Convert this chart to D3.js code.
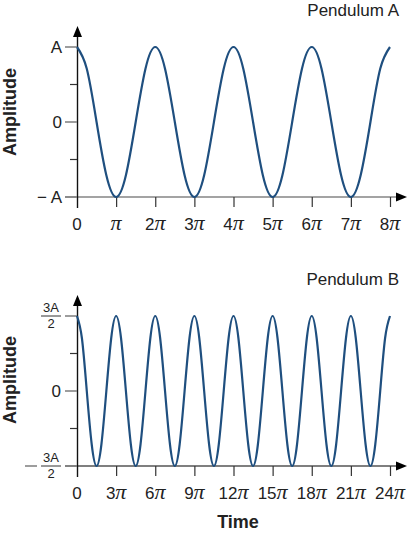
<!DOCTYPE html>
<html>
<head>
<meta charset="utf-8">
<script src="https://cdn.jsdelivr.net/npm/d3@7"></script>
<style>
  body { margin: 0; background: #fff; }
  svg { display: block; font-family: "Liberation Sans", Arial, sans-serif; }
</style>
</head>
<body>
<svg id="chart" width="411" height="534"></svg>
<script>
// time in units of pi, amplitude in units of A
const timeA = [0, 0.25, 0.5, 0.75, 1, 1.25, 1.5, 1.75, 2, 2.25, 2.5, 2.75, 3, 3.25, 3.5, 3.75,
  4, 4.25, 4.5, 4.75, 5, 5.25, 5.5, 5.75, 6, 6.25, 6.5, 6.75, 7, 7.25, 7.5, 7.75, 8];
const ampA = [1, 0.71, 0, -0.71, -1, -0.71, 0, 0.71, 1, 0.71, 0, -0.71, -1, -0.71, 0, 0.71,
  1, 0.71, 0, -0.71, -1, -0.71, 0, 0.71, 1, 0.71, 0, -0.71, -1, -0.71, 0, 0.71, 1];

const timeB = [0, 0.375, 0.75, 1.125, 1.5, 1.875, 2.25, 2.625, 3, 3.375, 3.75, 4.125, 4.5, 4.875, 5.25, 5.625,
  6, 6.375, 6.75, 7.125, 7.5, 7.875, 8.25, 8.625, 9, 9.375, 9.75, 10.125, 10.5, 10.875, 11.25, 11.625,
  12, 12.375, 12.75, 13.125, 13.5, 13.875, 14.25, 14.625, 15, 15.375, 15.75, 16.125, 16.5, 16.875, 17.25, 17.625,
  18, 18.375, 18.75, 19.125, 19.5, 19.875, 20.25, 20.625, 21, 21.375, 21.75, 22.125, 22.5, 22.875, 23.25, 23.625, 24];
const ampB = [1.5, 1.06, 0, -1.06, -1.5, -1.06, 0, 1.06, 1.5, 1.06, 0, -1.06, -1.5, -1.06, 0, 1.06,
  1.5, 1.06, 0, -1.06, -1.5, -1.06, 0, 1.06, 1.5, 1.06, 0, -1.06, -1.5, -1.06, 0, 1.06,
  1.5, 1.06, 0, -1.06, -1.5, -1.06, 0, 1.06, 1.5, 1.06, 0, -1.06, -1.5, -1.06, 0, 1.06,
  1.5, 1.06, 0, -1.06, -1.5, -1.06, 0, 1.06, 1.5, 1.06, 0, -1.06, -1.5, -1.06, 0, 1.06, 1.5];

const ticksA = [0, 1, 2, 3, 4, 5, 6, 7, 8];
const ticksB = [0, 3, 6, 9, 12, 15, 18, 21, 24];
const yMajorA = [1, 0, -1];
const yMinorA = [0.5, -0.5];
const yMajorB = [1.5, 0, -1.5];
const yMinorB = [0.75, -0.75];

const svg = d3.select('#chart');
const lineColor = '#1f4f7f';
const grey = '#858585';

function panel(opts) {
  const x = d3.scaleLinear().domain(opts.xDomain).range([77, 390]);
  const y = d3.scaleLinear().domain(opts.yDomain).range([opts.bottom, opts.bottom - 150]);
  const g = svg.append('g');

  // horizontal axis (grey line + arrow)
  g.append('line')
    .attr('x1', 65).attr('x2', 400)
    .attr('y1', y(opts.yDomain[0])).attr('y2', y(opts.yDomain[0]))
    .attr('stroke', opts.xAxisColor).attr('stroke-width', 1.6);
  g.append('path')
    .attr('d', `M407,${y(opts.yDomain[0])} l-11,-4.5 v9 z`)
    .attr('fill', '#000');

  // x ticks
  const xAxis = d3.axisBottom(x).tickValues(opts.xTicks.slice(1)).tickSize(10).tickFormat('');
  const ax = g.append('g')
    .attr('transform', `translate(0,${y(opts.yDomain[0])})`)
    .call(xAxis);
  ax.select('.domain').remove();
  ax.selectAll('.tick line').attr('stroke', '#333').attr('stroke-width', 1.2);

  // tick labels with italic pi
  const lab = g.selectAll('text.xl')
    .data(opts.xTicks)
    .enter().append('text')
    .attr('class', 'xl')
    .attr('x', d => x(d))
    .attr('y', opts.bottom + 33)
    .attr('text-anchor', 'middle')
    .attr('font-size', 17)
    .attr('fill', '#222');
  lab.append('tspan').text(d => d === 1 ? '' : d);
  lab.filter(d => d !== 0).append('tspan')
    .attr('font-family', '"Liberation Serif", "Times New Roman", serif')
    .attr('font-style', 'italic')
    .attr('font-size', 22)
    .text('\u03c0');

  // vertical axis with arrow
  g.append('line')
    .attr('x1', 77.5).attr('x2', 77.5)
    .attr('y1', opts.bottom + 11).attr('y2', opts.bottom - 160)
    .attr('stroke', '#111').attr('stroke-width', 1.4);
  g.append('path')
    .attr('d', `M77.5,${opts.bottom - 171} l-4.5,11 h9 z`)
    .attr('fill', '#000');

  // y ticks
  g.selectAll('line.ymaj').data(opts.yMajor).enter().append('line')
    .attr('x1', 65).attr('x2', 77)
    .attr('y1', d => y(d)).attr('y2', d => y(d))
    .attr('stroke', grey).attr('stroke-width', 1.6);
  g.selectAll('line.ymin').data(opts.yMinor).enter().append('line')
    .attr('x1', 70).attr('x2', 77)
    .attr('y1', d => y(d)).attr('y2', d => y(d))
    .attr('stroke', '#333').attr('stroke-width', 1.2);

  opts.yLabels(g, y);

  // the curve
  const pts = opts.t.map((d, i) => [d, opts.a[i]]);
  g.append('path')
    .datum(pts)
    .attr('fill', 'none')
    .attr('stroke', lineColor)
    .attr('stroke-width', 2.2)
    .attr('d', d3.line().x(d => x(d[0])).y(d => y(d[1])).curve(d3.curveNatural));

  // title and y label
  g.append('text')
    .attr('x', 399).attr('y', opts.bottom - 181)
    .attr('text-anchor', 'end').attr('font-size', 17).attr('fill', '#222')
    .text(opts.title);
  g.append('text')
    .attr('transform', `translate(16,${opts.labelY}) rotate(-90)`)
    .attr('text-anchor', 'middle').attr('font-size', 18).attr('font-weight', 'bold')
    .attr('fill', '#222')
    .text('Amplitude');
}

panel({
  xDomain: [0, 8], yDomain: [-1, 1], bottom: 197,
  xTicks: ticksA, yMajor: yMajorA, yMinor: yMinorA,
  t: timeA, a: ampA, title: 'Pendulum A', labelY: 112, xAxisColor: grey,
  yLabels: (g, y) => {
    g.selectAll('text.yl').data(yMajorA).enter().append('text')
      .attr('x', 62).attr('y', d => y(d) + 6)
      .attr('text-anchor', 'end').attr('font-size', 17).attr('fill', '#222')
      .text(d => d === 1 ? 'A' : d === 0 ? '0' : '\u2212 A');
  }
});

panel({
  xDomain: [0, 24], yDomain: [-1.5, 1.5], bottom: 466,
  xTicks: ticksB, yMajor: yMajorB, yMinor: yMinorB,
  t: timeB, a: ampB, title: 'Pendulum B', labelY: 380, xAxisColor: '#555',
  yLabels: (g, y) => {
    g.append('text')
      .attr('x', 61).attr('y', y(0) + 6)
      .attr('text-anchor', 'end').attr('font-size', 17).attr('fill', '#222')
      .text('0');
    const fr = g.selectAll('g.frac').data([1.5, -1.5]).enter().append('g')
      .attr('transform', d => `translate(51,${y(d)})`);
    fr.append('text').attr('y', -4).attr('text-anchor', 'middle')
      .attr('font-size', 13).attr('fill', '#222').text('3A');
    fr.append('line').attr('x1', -10).attr('x2', 10)
      .attr('stroke', '#333').attr('stroke-width', 1);
    fr.append('text').attr('y', 12).attr('text-anchor', 'middle')
      .attr('font-size', 13).attr('fill', '#222').text('2');
    fr.filter(d => d < 0).append('line')
      .attr('x1', -26).attr('x2', -14)
      .attr('stroke', grey).attr('stroke-width', 1.6);
  }
});

svg.append('text')
  .attr('x', 238).attr('y', 528)
  .attr('text-anchor', 'middle').attr('font-size', 18).attr('font-weight', 'bold')
  .attr('fill', '#222')
  .text('Time');
</script>
</body>
</html>
